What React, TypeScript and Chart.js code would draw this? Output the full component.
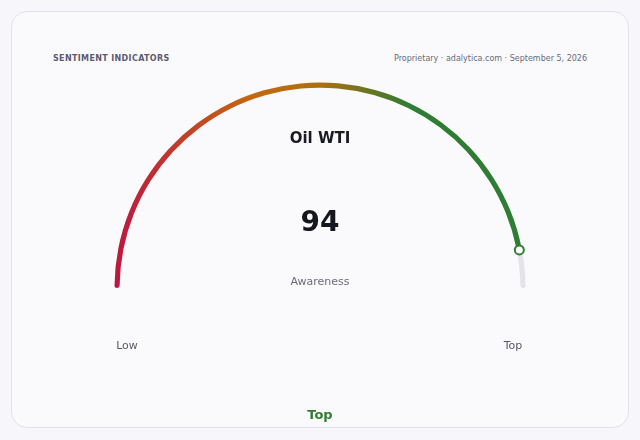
import { useEffect, useRef } from 'react'
import { Chart, registerables, ChartConfiguration, Plugin } from 'chart.js'

Chart.register(...registerables)

const indicatorName = 'Oil WTI'
const indicatorMetric = 'Awareness'
const segmentLabels = ['Score', 'Remaining']
const gaugeValues = [94, 6]
const scaleLabels = ['Low', 'Top']
const verdict = 'Top'

// gradient runs left -> right across the gauge
const gradientOffsets = [0, 0.33, 0.5, 0.72, 1]
const gradientColors = ['#bc1642', '#c4680f', '#ae6e10', '#2e7d32', '#2e7d32']
const trackColor = '#e3e3e8'
const markerColor = '#2e7d32'

const font = '"DejaVu Sans", Verdana, sans-serif'

// small ring marker at the end of the value arc
const endMarker: Plugin<'doughnut'> = {
  id: 'endMarker',
  afterDatasetsDraw(chart) {
    const arc: any = chart.getDatasetMeta(0).data[0]
    if (!arc) return
    const { x, y, endAngle, innerRadius, outerRadius } = arc.getProps(['x', 'y', 'endAngle', 'innerRadius', 'outerRadius'], true)
    const r = (innerRadius + outerRadius) / 2
    const ctx = chart.ctx
    ctx.save()
    ctx.beginPath()
    ctx.arc(x + Math.cos(endAngle) * r, y + Math.sin(endAngle) * r, 4.5, 0, Math.PI * 2)
    ctx.fillStyle = '#ffffff'
    ctx.fill()
    ctx.lineWidth = 2
    ctx.strokeStyle = markerColor
    ctx.stroke()
    ctx.restore()
  },
}

function Gauge() {
  const chartRef = useRef<HTMLCanvasElement>(null)
  const chartInstance = useRef<Chart | null>(null)

  useEffect(() => {
    if (!chartRef.current) return
    if (chartInstance.current) chartInstance.current.destroy()

    const config: ChartConfiguration<'doughnut'> = {
      type: 'doughnut',
      data: {
        labels: segmentLabels,
        datasets: [{
          data: gaugeValues,
          backgroundColor: (c: any) => {
            if (c.dataIndex !== 0) return trackColor
            const area = c.chart.chartArea
            if (!area) return gradientColors[0]
            const g = c.chart.ctx.createLinearGradient(area.left, 0, area.right, 0)
            gradientColors.forEach((col, i) => g.addColorStop(gradientOffsets[i], col))
            return g
          },
          borderWidth: 0,
          borderRadius: 2.5,
        }],
      },
      options: {
        responsive: false,
        animation: false,
        rotation: -90,
        circumference: 180,
        cutout: '97.5%',
        layout: { padding: { left: 114.5, right: 114.5, top: 82.5, bottom: 152 } },
        plugins: {
          legend: { display: false },
          tooltip: { enabled: false },
        },
      },
      plugins: [endMarker],
    }

    chartInstance.current = new Chart(chartRef.current, config)

    return () => {
      if (chartInstance.current) {
        chartInstance.current.destroy()
        chartInstance.current = null
      }
    }
  }, [])

  return <canvas ref={chartRef} width={640} height={440} style={{ position: 'absolute', left: 0, top: 0, width: 640, height: 440 }} />
}

const centered = (top: number, extra: React.CSSProperties): React.CSSProperties => ({
  position: 'absolute', left: 0, width: 640, top, textAlign: 'center', lineHeight: 1, ...extra,
})

export default function App() {
  return (
    <div style={{ position: 'fixed', inset: 0, background: '#f7f7fb', fontFamily: font, overflow: 'hidden' }}>
      <div style={{
        position: 'absolute', left: 11, top: 11, width: 616, height: 415,
        border: '1px solid #e1e1ea', borderRadius: 16, background: '#fafafd',
      }} />
      <div style={{ position: 'absolute', left: 53, top: 54.5, fontSize: 8, fontWeight: 700, letterSpacing: 0.35, color: '#5c5c70', lineHeight: 1 }}>
        SENTIMENT INDICATORS
      </div>
      <div style={{ position: 'absolute', right: 53, top: 54.5, fontSize: 8, color: '#6a6a78', lineHeight: 1 }}>
        Proprietary · adalytica.com · September 5, 2026
      </div>
      <Gauge />
      <div style={centered(131, { fontSize: 15, fontWeight: 700, color: '#1a1a22' })}>{indicatorName}</div>
      <div style={centered(208, { fontSize: 28, fontWeight: 700, color: '#16161e' })}>{gaugeValues[0]}</div>
      <div style={centered(276, { fontSize: 11, color: '#6b6b7a' })}>{indicatorMetric}</div>
      <div style={{ position: 'absolute', left: 97, width: 60, top: 340, textAlign: 'center', fontSize: 11, color: '#5a5a66', lineHeight: 1 }}>{scaleLabels[0]}</div>
      <div style={{ position: 'absolute', left: 483, width: 60, top: 340, textAlign: 'center', fontSize: 11, color: '#5a5a66', lineHeight: 1 }}>{scaleLabels[1]}</div>
      <div style={centered(408, { fontSize: 13, fontWeight: 700, color: markerColor })}>{verdict}</div>
    </div>
  )
}
